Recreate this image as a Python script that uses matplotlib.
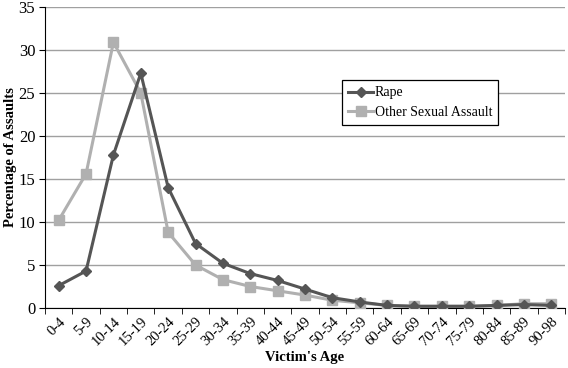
import matplotlib.pyplot as plt
import numpy as np

plt.rcParams['font.family'] = ['Liberation Serif', 'DejaVu Serif']

ages = ['0-4', '5-9', '10-14', '15-19', '20-24', '25-29', '30-34', '35-39',
        '40-44', '45-49', '50-54', '55-59', '60-64', '65-69', '70-74',
        '75-79', '80-84', '85-89', '90-98']
rape = [2.6, 4.3, 17.8, 27.3, 14.0, 7.5, 5.2, 4.0, 3.2, 2.2, 1.2, 0.7,
        0.3, 0.2, 0.2, 0.2, 0.3, 0.4, 0.3]
other = [10.2, 15.6, 30.9, 25.0, 8.8, 5.0, 3.3, 2.5, 2.0, 1.5, 0.9, 0.6,
         0.3, 0.2, 0.2, 0.2, 0.3, 0.5, 0.5]

fig = plt.figure(figsize=(5.68, 3.68), dpi=100)
ax = fig.add_axes([45/568, 1-308/368, 520/568, 301/368])

x = np.arange(len(ages))
ax.plot(x, other, color='#b0b0b0', marker='s', markersize=7, lw=2.2,
        label='Other Sexual Assault', zorder=3)
ax.plot(x, rape, color='#555555', marker='D', markersize=5, lw=2.2,
        label='Rape', zorder=4)

ax.set_xlim(-0.5, len(ages) - 0.5)
ax.set_ylim(0, 35)
ax.set_yticks(range(0, 36, 5))
ax.yaxis.grid(True, color='#a0a0a0', lw=1)
ax.set_axisbelow(True)

ax.set_xticks(x)
ax.set_xticklabels(ages, rotation=45, ha='right', rotation_mode='anchor', fontsize=10.5)
ax.set_xticks(np.arange(-0.5, len(ages)), minor=True)
ax.tick_params(axis='x', which='major', length=0, pad=5)
ax.tick_params(axis='x', which='minor', length=4, direction='out', color='black')
ax.tick_params(axis='y', length=4, direction='out', labelsize=12, pad=3)

for s in ['top', 'right']:
    ax.spines[s].set_visible(False)

ax.set_xlabel("Victim's Age", fontweight='bold', fontsize=10.5)
ax.set_ylabel('Percentage of Assaults', fontweight='bold', fontsize=10.5)
ax.yaxis.set_label_coords(-0.054, 0.5)
ax.xaxis.set_label_coords(0.5, -0.143)

h, l = ax.get_legend_handles_labels()
leg = ax.legend(h[::-1], l[::-1], loc='upper left', bbox_to_anchor=(0.571, 0.757),
                fancybox=False, framealpha=1, edgecolor='black', fontsize=10,
                handlelength=1.8, handletextpad=0.1, borderpad=0.45,
                labelspacing=0.45, borderaxespad=0)
leg.get_frame().set_linewidth(0.9)

fig.savefig('out.png', dpi=100)
